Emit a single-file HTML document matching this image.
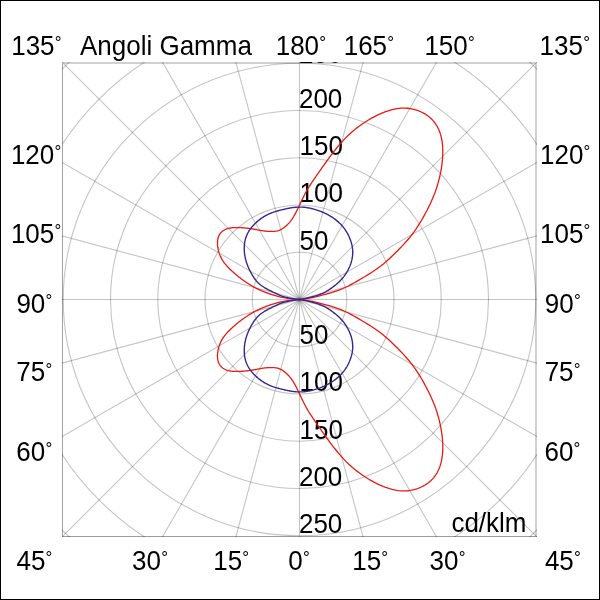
<!DOCTYPE html><html><head><meta charset="utf-8"><style>
html,body{margin:0;padding:0;background:#fff}body{width:600px;height:600px;overflow:hidden;position:relative}
svg{position:absolute;left:0;top:0;display:block}
text{font-family:"Liberation Sans",Arial,sans-serif;font-size:26px;fill:#000}
.d{font-size:17px}
</style></head><body>
<svg width="600" height="600" viewBox="0 0 600 600">
<rect x="0" y="0" width="600" height="600" fill="#fff"/>
<defs><clipPath id="c"><rect x="62" y="62" width="475" height="475"/></clipPath></defs>
<rect x="62" y="62" width="1" height="475" fill="#a2a2a2"/>
<rect x="62" y="62" width="475" height="2" fill="#d0d0d0"/>
<rect x="535" y="62" width="2" height="475" fill="#d0d0d0"/>
<rect x="62" y="536" width="475" height="1" fill="#9c9c9c"/>
<g clip-path="url(#c)">
<g fill="none" stroke="#000" stroke-opacity="0.23" stroke-width="1.1">
<circle cx="299.5" cy="299.5" r="47.25"/>
<circle cx="299.5" cy="299.5" r="94.50"/>
<circle cx="299.5" cy="299.5" r="141.75"/>
<circle cx="299.5" cy="299.5" r="189.00"/>
<circle cx="299.5" cy="299.5" r="236.25"/>
<circle cx="299.5" cy="299.5" r="283.50"/>
<circle cx="299.5" cy="299.5" r="330.75"/>
<line x1="-100.50" y1="299.50" x2="699.50" y2="299.50"/>
<line x1="-86.87" y1="403.03" x2="685.87" y2="195.97"/>
<line x1="-46.91" y1="499.50" x2="645.91" y2="99.50"/>
<line x1="16.66" y1="582.34" x2="582.34" y2="16.66"/>
<line x1="99.50" y1="645.91" x2="499.50" y2="-46.91"/>
<line x1="195.97" y1="685.87" x2="403.03" y2="-86.87"/>
<line x1="299.50" y1="699.50" x2="299.50" y2="-100.50"/>
<line x1="403.03" y1="685.87" x2="195.97" y2="-86.87"/>
<line x1="499.50" y1="645.91" x2="99.50" y2="-46.91"/>
<line x1="582.34" y1="582.34" x2="16.66" y2="16.66"/>
<line x1="645.91" y1="499.50" x2="-46.91" y2="99.50"/>
<line x1="685.87" y1="403.03" x2="-86.87" y2="195.97"/>
</g>
<text x="299.50" y="249.65" transform="matrix(1 0 0 1.045 0 -11.234)">50</text>
<text x="299.50" y="344.15" transform="matrix(1 0 0 1.045 0 -15.487)">50</text>
<text x="299.50" y="202.40" transform="matrix(1 0 0 1.045 0 -9.108)">100</text>
<text x="299.50" y="391.40" transform="matrix(1 0 0 1.045 0 -17.613)">100</text>
<text x="299.50" y="155.15" transform="matrix(1 0 0 1.045 0 -6.982)">150</text>
<text x="299.50" y="438.65" transform="matrix(1 0 0 1.045 0 -19.739)">150</text>
<text x="298.98" y="107.90" transform="matrix(1 0 0 1.045 0 -4.855)">200</text>
<text x="298.98" y="485.90" transform="matrix(1 0 0 1.045 0 -21.865)">200</text>
<text x="298.98" y="63.40" transform="matrix(1 0 0 1.045 0 -2.853)">250</text>
<text x="298.98" y="533.15" transform="matrix(1 0 0 1.045 0 -23.992)">250</text>
<text x="451.40" y="531.80" transform="matrix(1 0 0 1.045 0 -23.931)">cd/klm</text>
<path d="M299.50,299.50 302.94,299.11 305.92,298.71 308.44,298.32 310.63,297.94 312.63,297.54 314.56,297.11 316.57,296.64 318.76,296.10 321.25,295.47 323.98,294.74 326.89,293.93 329.91,293.04 332.95,292.09 335.94,291.09 338.82,290.06 341.51,289.03 343.96,288.00 346.20,286.99 348.30,285.97 350.31,284.93 352.27,283.87 354.26,282.76 356.31,281.59 358.48,280.33 360.82,278.98 363.29,277.54 365.85,276.00 368.48,274.39 371.12,272.72 373.74,271.00 376.30,269.25 378.76,267.47 381.11,265.70 383.35,263.91 385.50,262.11 387.59,260.28 389.63,258.42 391.66,256.52 393.69,254.57 395.74,252.56 397.83,250.47 399.94,248.32 402.06,246.11 404.16,243.85 406.23,241.55 408.25,239.22 410.20,236.87 412.06,234.51 413.82,232.16 415.49,229.80 417.08,227.44 418.61,225.07 420.08,222.68 421.51,220.26 422.92,217.81 424.30,215.32 425.67,212.78 427.03,210.20 428.37,207.58 429.67,204.93 430.93,202.25 432.14,199.55 433.29,196.84 434.37,194.13 435.39,191.41 436.33,188.70 437.20,185.99 438.01,183.28 438.75,180.57 439.43,177.86 440.05,175.15 440.62,172.44 441.12,169.73 441.57,167.02 441.95,164.32 442.26,161.63 442.51,158.96 442.68,156.32 442.78,153.70 442.79,151.11 442.73,148.57 442.58,146.06 442.35,143.61 442.02,141.21 441.61,138.87 441.10,136.60 440.50,134.41 439.81,132.29 439.01,130.26 438.13,128.31 437.15,126.45 436.08,124.68 434.93,123.00 433.70,121.41 432.39,119.91 431.00,118.51 429.54,117.19 428.01,115.97 426.41,114.84 424.76,113.80 423.04,112.85 421.28,111.98 419.46,111.19 417.61,110.49 415.71,109.87 413.77,109.33 411.78,108.88 409.76,108.52 407.69,108.27 405.58,108.13 403.43,108.09 401.23,108.18 398.99,108.38 396.72,108.70 394.41,109.14 392.08,109.69 389.73,110.33 387.36,111.08 384.99,111.92 382.61,112.84 380.23,113.84 377.85,114.93 375.47,116.09 373.11,117.32 370.75,118.62 368.40,120.00 366.07,121.44 363.76,122.95 361.46,124.52 359.19,126.16 356.93,127.86 354.69,129.65 352.47,131.52 350.26,133.47 348.08,135.51 345.91,137.64 343.77,139.88 341.65,142.19 339.57,144.58 337.52,147.01 335.52,149.48 333.56,151.96 331.66,154.45 329.81,156.92 328.01,159.35 326.28,161.75 324.59,164.11 322.97,166.41 321.40,168.65 319.88,170.84 318.41,172.95 317.00,174.99 315.63,176.96 314.31,178.86 313.03,180.72 311.79,182.55 310.59,184.36 309.41,186.17 308.27,188.01 307.17,189.88 306.09,191.79 305.04,193.74 304.03,195.71 303.06,197.68 302.12,199.63 301.21,201.54 300.34,203.40 299.50,205.19 298.69,206.90 297.91,208.51 297.16,210.05 296.43,211.50 295.72,212.87 295.03,214.16 294.35,215.37 293.70,216.50 293.05,217.56 292.42,218.55 291.79,219.48 291.18,220.33 290.57,221.13 289.97,221.87 289.37,222.57 288.78,223.22 288.19,223.83 287.61,224.41 287.03,224.96 286.45,225.50 285.88,226.01 285.31,226.51 284.75,226.98 284.18,227.44 283.62,227.88 283.06,228.29 282.50,228.68 281.93,229.04 281.37,229.38 280.79,229.69 280.22,229.97 279.63,230.22 279.04,230.44 278.44,230.63 277.84,230.79 277.22,230.93 276.60,231.05 275.96,231.14 275.32,231.22 274.67,231.28 274.01,231.33 273.34,231.36 272.67,231.38 271.98,231.39 271.29,231.40 270.59,231.40 269.88,231.39 269.17,231.37 268.44,231.34 267.70,231.30 266.94,231.25 266.18,231.18 265.40,231.11 264.61,231.02 263.80,230.91 262.97,230.80 262.13,230.67 261.27,230.52 260.39,230.37 259.49,230.21 258.58,230.04 257.66,229.86 256.72,229.68 255.76,229.51 254.80,229.33 253.82,229.16 252.83,228.99 251.83,228.82 250.82,228.67 249.80,228.52 248.77,228.38 247.74,228.26 246.69,228.14 245.64,228.03 244.58,227.93 243.51,227.84 242.44,227.76 241.36,227.70 240.26,227.64 239.17,227.60 238.07,227.57 236.96,227.55 235.85,227.56 234.75,227.59 233.65,227.64 232.57,227.72 231.49,227.84 230.44,227.99 229.41,228.17 228.40,228.40 227.42,228.67 226.48,228.99 225.58,229.35 224.71,229.76 223.89,230.21 223.11,230.72 222.37,231.26 221.69,231.86 221.04,232.49 220.45,233.17 219.91,233.89 219.42,234.66 218.99,235.46 218.61,236.30 218.29,237.19 218.02,238.10 217.81,239.05 217.65,240.03 217.54,241.04 217.48,242.07 217.47,243.12 217.50,244.19 217.57,245.27 217.69,246.37 217.84,247.48 218.04,248.60 218.26,249.72 218.53,250.85 218.84,251.99 219.19,253.13 219.60,254.30 220.07,255.47 220.59,256.66 221.19,257.86 221.85,259.08 222.59,260.31 223.42,261.57 224.32,262.83 225.32,264.12 226.40,265.41 227.56,266.71 228.78,268.01 230.06,269.31 231.40,270.59 232.77,271.86 234.18,273.11 235.62,274.34 237.07,275.54 238.53,276.71 239.99,277.84 241.44,278.94 242.89,280.01 244.33,281.04 245.77,282.04 247.23,283.02 248.69,283.97 250.17,284.89 251.67,285.79 253.20,286.66 254.76,287.51 256.35,288.34 257.98,289.15 259.66,289.94 261.37,290.70 263.12,291.43 264.88,292.14 266.65,292.82 268.43,293.46 270.20,294.07 271.96,294.64 273.69,295.18 275.39,295.68 277.07,296.15 278.79,296.59 280.64,297.02 282.69,297.44 285.04,297.85 287.77,298.27 290.96,298.68 294.70,299.08 299.07,299.47 L299.07,299.53 294.70,299.92 290.96,300.32 287.77,300.73 285.04,301.15 282.69,301.56 280.64,301.98 278.79,302.41 277.07,302.85 275.39,303.32 273.69,303.82 271.96,304.36 270.20,304.93 268.43,305.54 266.65,306.18 264.88,306.86 263.12,307.57 261.37,308.30 259.66,309.06 257.98,309.85 256.35,310.66 254.76,311.49 253.20,312.34 251.67,313.21 250.17,314.11 248.69,315.03 247.23,315.98 245.77,316.96 244.33,317.96 242.89,318.99 241.44,320.06 239.99,321.16 238.53,322.29 237.07,323.46 235.62,324.66 234.18,325.89 232.77,327.14 231.40,328.41 230.06,329.69 228.78,330.99 227.56,332.29 226.40,333.59 225.32,334.88 224.32,336.17 223.42,337.43 222.59,338.69 221.85,339.92 221.19,341.14 220.59,342.34 220.07,343.53 219.60,344.70 219.19,345.87 218.84,347.01 218.53,348.15 218.26,349.28 218.04,350.40 217.84,351.52 217.69,352.63 217.57,353.73 217.50,354.81 217.47,355.88 217.48,356.93 217.54,357.96 217.65,358.97 217.81,359.95 218.02,360.90 218.29,361.81 218.61,362.70 218.99,363.54 219.42,364.34 219.91,365.11 220.45,365.83 221.04,366.51 221.69,367.14 222.37,367.74 223.11,368.28 223.89,368.79 224.71,369.24 225.58,369.65 226.48,370.01 227.42,370.33 228.40,370.60 229.41,370.83 230.44,371.01 231.49,371.16 232.57,371.28 233.65,371.36 234.75,371.41 235.85,371.44 236.96,371.45 238.07,371.43 239.17,371.40 240.26,371.36 241.36,371.30 242.44,371.24 243.51,371.16 244.58,371.07 245.64,370.97 246.69,370.86 247.74,370.74 248.77,370.62 249.80,370.48 250.82,370.33 251.83,370.18 252.83,370.01 253.82,369.84 254.80,369.67 255.76,369.49 256.72,369.32 257.66,369.14 258.58,368.96 259.49,368.79 260.39,368.63 261.27,368.48 262.13,368.33 262.97,368.20 263.80,368.09 264.61,367.98 265.40,367.89 266.18,367.82 266.94,367.75 267.70,367.70 268.44,367.66 269.17,367.63 269.88,367.61 270.59,367.60 271.29,367.60 271.98,367.61 272.67,367.62 273.34,367.64 274.01,367.67 274.67,367.72 275.32,367.78 275.96,367.86 276.60,367.95 277.22,368.07 277.84,368.21 278.44,368.37 279.04,368.56 279.63,368.78 280.22,369.03 280.79,369.31 281.37,369.62 281.93,369.96 282.50,370.32 283.06,370.71 283.62,371.12 284.18,371.56 284.75,372.02 285.31,372.49 285.88,372.99 286.45,373.50 287.03,374.04 287.61,374.59 288.19,375.17 288.78,375.78 289.37,376.43 289.97,377.13 290.57,377.87 291.18,378.67 291.79,379.52 292.42,380.45 293.05,381.44 293.70,382.50 294.35,383.63 295.03,384.84 295.72,386.13 296.43,387.50 297.16,388.95 297.91,390.49 298.69,392.10 299.50,393.81 300.34,395.60 301.21,397.46 302.12,399.37 303.06,401.32 304.03,403.29 305.04,405.26 306.09,407.21 307.17,409.12 308.27,410.99 309.41,412.83 310.59,414.64 311.79,416.45 313.03,418.28 314.31,420.14 315.63,422.04 317.00,424.01 318.41,426.05 319.88,428.16 321.40,430.35 322.97,432.59 324.59,434.89 326.28,437.25 328.01,439.65 329.81,442.08 331.66,444.55 333.56,447.04 335.52,449.52 337.52,451.99 339.57,454.42 341.65,456.81 343.77,459.12 345.91,461.36 348.08,463.49 350.26,465.53 352.47,467.48 354.69,469.35 356.93,471.14 359.19,472.84 361.46,474.48 363.76,476.05 366.07,477.56 368.40,479.00 370.75,480.38 373.11,481.68 375.47,482.91 377.85,484.07 380.23,485.16 382.61,486.16 384.99,487.08 387.36,487.92 389.73,488.67 392.08,489.31 394.41,489.86 396.72,490.30 398.99,490.62 401.23,490.82 403.43,490.91 405.58,490.87 407.69,490.73 409.76,490.48 411.78,490.12 413.77,489.67 415.71,489.13 417.61,488.51 419.46,487.81 421.28,487.02 423.04,486.15 424.76,485.20 426.41,484.16 428.01,483.03 429.54,481.81 431.00,480.49 432.39,479.09 433.70,477.59 434.93,476.00 436.08,474.32 437.15,472.55 438.13,470.69 439.01,468.74 439.81,466.71 440.50,464.59 441.10,462.40 441.61,460.13 442.02,457.79 442.35,455.39 442.58,452.94 442.73,450.43 442.79,447.89 442.78,445.30 442.68,442.68 442.51,440.04 442.26,437.37 441.95,434.68 441.57,431.98 441.12,429.27 440.62,426.56 440.05,423.85 439.43,421.14 438.75,418.43 438.01,415.72 437.20,413.01 436.33,410.30 435.39,407.59 434.37,404.87 433.29,402.16 432.14,399.45 430.93,396.75 429.67,394.07 428.37,391.42 427.03,388.80 425.67,386.22 424.30,383.68 422.92,381.19 421.51,378.74 420.08,376.32 418.61,373.93 417.08,371.56 415.49,369.20 413.82,366.84 412.06,364.49 410.20,362.13 408.25,359.78 406.23,357.45 404.16,355.15 402.06,352.89 399.94,350.68 397.83,348.53 395.74,346.44 393.69,344.43 391.66,342.48 389.63,340.58 387.59,338.72 385.50,336.89 383.35,335.09 381.11,333.30 378.76,331.53 376.30,329.75 373.74,328.00 371.12,326.28 368.48,324.61 365.85,323.00 363.29,321.46 360.82,320.02 358.48,318.67 356.31,317.41 354.26,316.24 352.27,315.13 350.31,314.07 348.30,313.03 346.20,312.01 343.96,311.00 341.51,309.97 338.82,308.94 335.94,307.91 332.95,306.91 329.91,305.96 326.89,305.07 323.98,304.26 321.25,303.53 318.76,302.90 316.57,302.36 314.56,301.89 312.63,301.46 310.63,301.06 308.44,300.68 305.92,300.29 302.94,299.89 299.50,299.50 Z" fill="none" stroke="#e81a12" stroke-width="1.3" stroke-linejoin="round"/>
<path d="M299.50,299.50 299.50,299.50 300.06,299.41 301.37,299.19 303.16,298.85 305.30,298.43 307.63,297.92 310.03,297.36 312.34,296.77 314.44,296.19 316.34,295.61 318.06,295.04 319.61,294.49 321.02,293.93 322.31,293.39 323.49,292.85 324.59,292.31 325.63,291.76 326.61,291.21 327.56,290.65 328.46,290.09 329.35,289.51 330.22,288.92 331.09,288.31 331.96,287.69 332.84,287.03 333.73,286.36 334.62,285.66 335.51,284.95 336.40,284.22 337.27,283.47 338.13,282.70 338.97,281.93 339.78,281.14 340.56,280.35 341.31,279.56 342.03,278.76 342.72,277.95 343.38,277.14 344.01,276.33 344.61,275.51 345.19,274.69 345.74,273.87 346.28,273.03 346.79,272.20 347.28,271.35 347.76,270.50 348.21,269.65 348.64,268.79 349.05,267.93 349.45,267.06 349.82,266.20 350.17,265.33 350.49,264.45 350.80,263.58 351.08,262.71 351.35,261.83 351.59,260.96 351.80,260.09 352.00,259.22 352.17,258.35 352.32,257.49 352.44,256.63 352.55,255.77 352.63,254.92 352.68,254.08 352.72,253.24 352.73,252.41 352.72,251.58 352.69,250.76 352.64,249.95 352.57,249.14 352.48,248.34 352.38,247.54 352.25,246.75 352.11,245.97 351.95,245.19 351.77,244.42 351.58,243.65 351.38,242.89 351.15,242.13 350.92,241.38 350.67,240.64 350.41,239.90 350.13,239.16 349.84,238.43 349.54,237.70 349.23,236.98 348.90,236.26 348.57,235.55 348.22,234.85 347.86,234.15 347.48,233.46 347.10,232.77 346.70,232.09 346.29,231.42 345.87,230.76 345.43,230.10 344.99,229.45 344.53,228.81 344.07,228.18 343.59,227.56 343.10,226.94 342.60,226.34 342.08,225.74 341.56,225.16 341.03,224.58 340.48,224.02 339.93,223.46 339.37,222.92 338.79,222.38 338.21,221.86 337.62,221.34 337.02,220.84 336.41,220.34 335.80,219.85 335.17,219.38 334.54,218.91 333.90,218.45 333.26,218.00 332.61,217.56 331.95,217.13 331.28,216.70 330.61,216.29 329.93,215.89 329.25,215.49 328.56,215.10 327.87,214.72 327.17,214.35 326.46,213.99 325.75,213.64 325.04,213.29 324.32,212.95 323.59,212.63 322.86,212.31 322.13,212.00 321.39,211.69 320.65,211.40 319.91,211.11 319.16,210.84 318.40,210.57 317.65,210.31 316.89,210.05 316.12,209.81 315.36,209.58 314.59,209.35 313.81,209.13 313.04,208.92 312.26,208.72 311.48,208.53 310.69,208.35 309.90,208.18 309.12,208.02 308.32,207.87 307.53,207.73 306.73,207.61 305.93,207.49 305.13,207.39 304.33,207.31 303.53,207.23 302.72,207.17 301.92,207.13 301.11,207.09 300.31,207.08 299.50,207.08 298.69,207.09 297.89,207.12 297.08,207.16 296.28,207.21 295.47,207.28 294.67,207.36 293.87,207.45 293.07,207.56 292.27,207.67 291.48,207.79 290.68,207.92 289.89,208.06 289.10,208.21 288.31,208.36 287.52,208.52 286.74,208.68 285.95,208.85 285.17,209.03 284.39,209.20 283.61,209.38 282.83,209.57 282.05,209.75 281.28,209.94 280.50,210.13 279.73,210.33 278.96,210.53 278.19,210.74 277.42,210.95 276.66,211.17 275.89,211.40 275.13,211.63 274.37,211.88 273.62,212.13 272.87,212.39 272.12,212.67 271.38,212.95 270.64,213.25 269.91,213.55 269.18,213.87 268.45,214.20 267.74,214.54 267.03,214.90 266.32,215.27 265.62,215.65 264.93,216.05 264.25,216.45 263.57,216.87 262.90,217.29 262.24,217.73 261.58,218.18 260.93,218.64 260.29,219.11 259.66,219.59 259.04,220.08 258.42,220.58 257.81,221.09 257.21,221.61 256.62,222.14 256.03,222.67 255.46,223.21 254.89,223.76 254.33,224.32 253.78,224.89 253.24,225.46 252.71,226.05 252.19,226.65 251.68,227.25 251.18,227.87 250.70,228.50 250.23,229.13 249.77,229.78 249.33,230.45 248.90,231.12 248.49,231.80 248.09,232.50 247.71,233.21 247.35,233.94 247.01,234.67 246.68,235.42 246.37,236.19 246.09,236.96 245.82,237.75 245.58,238.55 245.36,239.37 245.15,240.19 244.97,241.02 244.81,241.87 244.66,242.72 244.54,243.58 244.44,244.44 244.36,245.31 244.30,246.19 244.26,247.08 244.24,247.97 244.24,248.86 244.25,249.76 244.29,250.66 244.35,251.56 244.43,252.46 244.52,253.37 244.63,254.27 244.77,255.18 244.92,256.08 245.09,256.99 245.27,257.89 245.48,258.79 245.70,259.69 245.93,260.58 246.19,261.47 246.46,262.36 246.75,263.24 247.05,264.12 247.37,265.00 247.70,265.86 248.05,266.72 248.41,267.58 248.79,268.43 249.18,269.27 249.58,270.10 250.00,270.92 250.42,271.73 250.85,272.53 251.29,273.33 251.74,274.11 252.20,274.87 252.65,275.63 253.12,276.37 253.58,277.10 254.05,277.82 254.52,278.53 255.02,279.23 255.54,279.93 256.09,280.63 256.69,281.33 257.34,282.04 258.05,282.75 258.82,283.48 259.68,284.21 260.62,284.96 261.66,285.73 262.80,286.50 264.02,287.28 265.32,288.06 266.66,288.83 268.03,289.58 269.41,290.30 270.79,290.99 272.13,291.65 273.42,292.27 274.65,292.84 275.78,293.37 276.80,293.84 277.70,294.27 278.52,294.66 279.31,295.02 280.12,295.38 281.00,295.74 281.99,296.10 283.17,296.47 284.57,296.87 286.23,297.28 288.12,297.70 290.20,298.11 292.42,298.51 294.75,298.87 297.12,299.21 299.50,299.50 L299.50,299.50 297.12,299.79 294.75,300.13 292.42,300.49 290.20,300.89 288.12,301.30 286.23,301.72 284.57,302.13 283.17,302.53 281.99,302.90 281.00,303.26 280.12,303.62 279.31,303.98 278.52,304.34 277.70,304.73 276.80,305.16 275.78,305.63 274.65,306.16 273.42,306.73 272.13,307.35 270.79,308.01 269.41,308.70 268.03,309.42 266.66,310.17 265.32,310.94 264.02,311.72 262.80,312.50 261.66,313.27 260.62,314.04 259.68,314.79 258.82,315.52 258.05,316.25 257.34,316.96 256.69,317.67 256.09,318.37 255.54,319.07 255.02,319.77 254.52,320.47 254.05,321.18 253.58,321.90 253.12,322.63 252.65,323.37 252.20,324.13 251.74,324.89 251.29,325.67 250.85,326.47 250.42,327.27 250.00,328.08 249.58,328.90 249.18,329.73 248.79,330.57 248.41,331.42 248.05,332.28 247.70,333.14 247.37,334.00 247.05,334.88 246.75,335.76 246.46,336.64 246.19,337.53 245.93,338.42 245.70,339.31 245.48,340.21 245.27,341.11 245.09,342.01 244.92,342.92 244.77,343.82 244.63,344.73 244.52,345.63 244.43,346.54 244.35,347.44 244.29,348.34 244.25,349.24 244.24,350.14 244.24,351.03 244.26,351.92 244.30,352.81 244.36,353.69 244.44,354.56 244.54,355.42 244.66,356.28 244.81,357.13 244.97,357.98 245.15,358.81 245.36,359.63 245.58,360.45 245.82,361.25 246.09,362.04 246.37,362.81 246.68,363.58 247.01,364.33 247.35,365.06 247.71,365.79 248.09,366.50 248.49,367.20 248.90,367.88 249.33,368.55 249.77,369.22 250.23,369.87 250.70,370.50 251.18,371.13 251.68,371.75 252.19,372.35 252.71,372.95 253.24,373.54 253.78,374.11 254.33,374.68 254.89,375.24 255.46,375.79 256.03,376.33 256.62,376.86 257.21,377.39 257.81,377.91 258.42,378.42 259.04,378.92 259.66,379.41 260.29,379.89 260.93,380.36 261.58,380.82 262.24,381.27 262.90,381.71 263.57,382.13 264.25,382.55 264.93,382.95 265.62,383.35 266.32,383.73 267.03,384.10 267.74,384.46 268.45,384.80 269.18,385.13 269.91,385.45 270.64,385.75 271.38,386.05 272.12,386.33 272.87,386.61 273.62,386.87 274.37,387.12 275.13,387.37 275.89,387.60 276.66,387.83 277.42,388.05 278.19,388.26 278.96,388.47 279.73,388.67 280.50,388.87 281.28,389.06 282.05,389.25 282.83,389.43 283.61,389.62 284.39,389.80 285.17,389.97 285.95,390.15 286.74,390.32 287.52,390.48 288.31,390.64 289.10,390.79 289.89,390.94 290.68,391.08 291.48,391.21 292.27,391.33 293.07,391.44 293.87,391.55 294.67,391.64 295.47,391.72 296.28,391.79 297.08,391.84 297.89,391.88 298.69,391.91 299.50,391.92 300.31,391.92 301.11,391.91 301.92,391.87 302.72,391.83 303.53,391.77 304.33,391.69 305.13,391.61 305.93,391.51 306.73,391.39 307.53,391.27 308.32,391.13 309.12,390.98 309.90,390.82 310.69,390.65 311.48,390.47 312.26,390.28 313.04,390.08 313.81,389.87 314.59,389.65 315.36,389.42 316.12,389.19 316.89,388.95 317.65,388.69 318.40,388.43 319.16,388.16 319.91,387.89 320.65,387.60 321.39,387.31 322.13,387.00 322.86,386.69 323.59,386.37 324.32,386.05 325.04,385.71 325.75,385.36 326.46,385.01 327.17,384.65 327.87,384.28 328.56,383.90 329.25,383.51 329.93,383.11 330.61,382.71 331.28,382.30 331.95,381.87 332.61,381.44 333.26,381.00 333.90,380.55 334.54,380.09 335.17,379.62 335.80,379.15 336.41,378.66 337.02,378.16 337.62,377.66 338.21,377.14 338.79,376.62 339.37,376.08 339.93,375.54 340.48,374.98 341.03,374.42 341.56,373.84 342.08,373.26 342.60,372.66 343.10,372.06 343.59,371.44 344.07,370.82 344.53,370.19 344.99,369.55 345.43,368.90 345.87,368.24 346.29,367.58 346.70,366.91 347.10,366.23 347.48,365.54 347.86,364.85 348.22,364.15 348.57,363.45 348.90,362.74 349.23,362.02 349.54,361.30 349.84,360.57 350.13,359.84 350.41,359.10 350.67,358.36 350.92,357.62 351.15,356.87 351.38,356.11 351.58,355.35 351.77,354.58 351.95,353.81 352.11,353.03 352.25,352.25 352.38,351.46 352.48,350.66 352.57,349.86 352.64,349.05 352.69,348.24 352.72,347.42 352.73,346.59 352.72,345.76 352.68,344.92 352.63,344.08 352.55,343.23 352.44,342.37 352.32,341.51 352.17,340.65 352.00,339.78 351.80,338.91 351.59,338.04 351.35,337.17 351.08,336.29 350.80,335.42 350.49,334.55 350.17,333.67 349.82,332.80 349.45,331.94 349.05,331.07 348.64,330.21 348.21,329.35 347.76,328.50 347.28,327.65 346.79,326.80 346.28,325.97 345.74,325.13 345.19,324.31 344.61,323.49 344.01,322.67 343.38,321.86 342.72,321.05 342.03,320.24 341.31,319.44 340.56,318.65 339.78,317.86 338.97,317.07 338.13,316.30 337.27,315.53 336.40,314.78 335.51,314.05 334.62,313.34 333.73,312.64 332.84,311.97 331.96,311.31 331.09,310.69 330.22,310.08 329.35,309.49 328.46,308.91 327.56,308.35 326.61,307.79 325.63,307.24 324.59,306.69 323.49,306.15 322.31,305.61 321.02,305.07 319.61,304.51 318.06,303.96 316.34,303.39 314.44,302.81 312.34,302.23 310.03,301.64 307.63,301.08 305.30,300.57 303.16,300.15 301.37,299.81 300.06,299.59 299.50,299.50 299.50,299.50 Z" fill="none" stroke="#36288e" stroke-width="1.4" stroke-linejoin="round"/>
</g>
<text x="11.20" y="54.80" transform="matrix(1 0 0 1.045 0 -2.466)">135<tspan class="d" dx="0.2" dy="-5.6">°</tspan></text>
<text x="275.70" y="54.80" transform="matrix(1 0 0 1.045 0 -2.466)">180<tspan class="d" dx="0.2" dy="-5.6">°</tspan></text>
<text x="343.70" y="54.80" transform="matrix(1 0 0 1.045 0 -2.466)">165<tspan class="d" dx="0.2" dy="-5.6">°</tspan></text>
<text x="424.40" y="54.80" transform="matrix(1 0 0 1.045 0 -2.466)">150<tspan class="d" dx="0.2" dy="-5.6">°</tspan></text>
<text x="539.60" y="54.80" transform="matrix(1 0 0 1.045 0 -2.466)">135<tspan class="d" dx="0.2" dy="-5.6">°</tspan></text>
<text x="10.90" y="163.50" transform="matrix(1 0 0 1.045 0 -7.357)">120<tspan class="d" dx="0.2" dy="-5.6">°</tspan></text>
<text x="10.90" y="242.90" transform="matrix(1 0 0 1.045 0 -10.930)">105<tspan class="d" dx="0.2" dy="-5.6">°</tspan></text>
<text x="16.38" y="312.80" transform="matrix(1 0 0 1.045 0 -14.076)">90<tspan class="d" dx="0.2" dy="-5.6">°</tspan></text>
<text x="16.27" y="381.50" transform="matrix(1 0 0 1.045 0 -17.167)">75<tspan class="d" dx="0.2" dy="-5.6">°</tspan></text>
<text x="16.27" y="460.70" transform="matrix(1 0 0 1.045 0 -20.731)">60<tspan class="d" dx="0.2" dy="-5.6">°</tspan></text>
<text x="540.00" y="163.50" transform="matrix(1 0 0 1.045 0 -7.357)">120<tspan class="d" dx="0.2" dy="-5.6">°</tspan></text>
<text x="540.00" y="242.90" transform="matrix(1 0 0 1.045 0 -10.930)">105<tspan class="d" dx="0.2" dy="-5.6">°</tspan></text>
<text x="544.88" y="312.80" transform="matrix(1 0 0 1.045 0 -14.076)">90<tspan class="d" dx="0.2" dy="-5.6">°</tspan></text>
<text x="544.67" y="381.50" transform="matrix(1 0 0 1.045 0 -17.167)">75<tspan class="d" dx="0.2" dy="-5.6">°</tspan></text>
<text x="544.47" y="460.70" transform="matrix(1 0 0 1.045 0 -20.731)">60<tspan class="d" dx="0.2" dy="-5.6">°</tspan></text>
<text x="16.50" y="569.60" transform="matrix(1 0 0 1.045 0 -25.632)">45<tspan class="d" dx="0.2" dy="-5.6">°</tspan></text>
<text x="132.11" y="569.60" transform="matrix(1 0 0 1.045 0 -25.632)">30<tspan class="d" dx="0.2" dy="-5.6">°</tspan></text>
<text x="213.20" y="569.60" transform="matrix(1 0 0 1.045 0 -25.632)">15<tspan class="d" dx="0.2" dy="-5.6">°</tspan></text>
<text x="288.29" y="569.60" transform="matrix(1 0 0 1.045 0 -25.632)">0<tspan class="d" dx="0.2" dy="-5.6">°</tspan></text>
<text x="352.20" y="569.60" transform="matrix(1 0 0 1.045 0 -25.632)">15<tspan class="d" dx="0.2" dy="-5.6">°</tspan></text>
<text x="429.51" y="569.60" transform="matrix(1 0 0 1.045 0 -25.632)">30<tspan class="d" dx="0.2" dy="-5.6">°</tspan></text>
<text x="544.90" y="569.60" transform="matrix(1 0 0 1.045 0 -25.632)">45<tspan class="d" dx="0.2" dy="-5.6">°</tspan></text>
<text x="80.00" y="54.80" transform="matrix(1 0 0 1.045 0 -2.466)">Angoli Gamma</text>
</svg>
<div style="position:absolute;left:0;top:0;width:598px;height:598px;border:1px solid #000"></div>
</body></html>
